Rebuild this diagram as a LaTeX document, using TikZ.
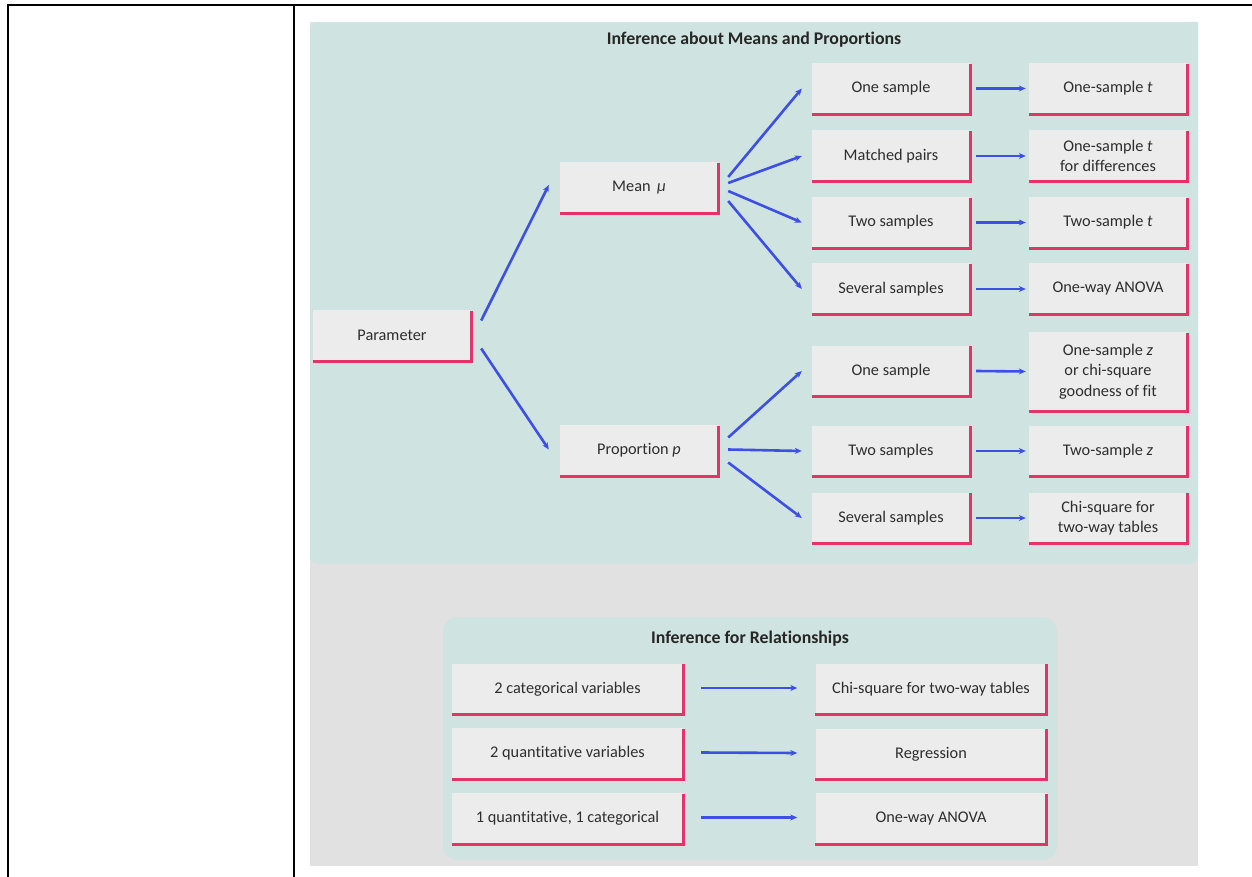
\documentclass[tikz,border=0pt]{standalone}
\usepackage{fontspec}
\setmainfont{Carlito}[Ligatures={NoCommon}]
\usetikzlibrary{arrows.meta,calc}
\definecolor{tealbg}{HTML}{CFE4E0}
\definecolor{graybg}{HTML}{E1E1E1}
\definecolor{boxfill}{HTML}{ECECEC}
\definecolor{edgered}{HTML}{E33468}
\definecolor{arrowblue}{HTML}{3D4FE6}
\definecolor{txt}{HTML}{2E2E2E}
\tikzset{
  x=1pt, y=-1pt,
  stepbox/.style={fill=boxfill, minimum width=158pt, minimum height=51pt,
    inner sep=0pt, align=center, text=txt, font=\fontsize{16.3}{20.5}\selectfont},
  widebox/.style={stepbox, minimum width=231pt},
  redline/.style={edgered, line width=3pt},
  flow/.style={arrowblue, line width=2.6pt, -{Stealth[length=7pt,width=6pt]}},
  heading/.style={font=\fontsize{17.8}{20}\selectfont\bfseries, text=black!85},
  rule/.style={black, line width=2pt}
}
\newcommand{\redL}[1]{\draw[redline] ([yshift=-1pt]#1.north east) -- (#1.south east) -- (#1.south west);}
\begin{document}
\begin{tikzpicture}
\useasboundingbox (0,0) rectangle (1252,877);
\fill[white] (0,0) rectangle (1252,877);

% table frame
\draw[rule] (7,5) -- (1252,5);
\draw[rule] (8,5) -- (8,877);
\draw[rule] (294,5) -- (294,877);

% backgrounds
\fill[graybg] (310,22) rectangle (1198,866);
\fill[tealbg] (310,22) -- (1198,22) -- (1198,555) [rounded corners=8pt] -- (1198,564) -- (310,564) -- cycle;
\fill[tealbg, rounded corners=14pt] (443,617) rectangle (1057,860);

% --- Inference about means and proportions ---
\node[heading] (title1) at (754,40) {Inference about Means and Proportions};

\node[stepbox] (param) at (392,335.5) {Parameter};
\node[stepbox] (mean)  at (639,188)   {Mean \,\textit{μ}};
\node[stepbox] (prop)  at (639,450.5) {Proportion \textit{p}};

\node[stepbox] (m1) at (891,88.5)  {One sample};
\node[stepbox] (m2) at (891,156)   {Matched pairs};
\node[stepbox] (m3) at (891,222.5) {Two samples};
\node[stepbox] (m4) at (891,289)   {Several samples};
\node[stepbox] (p1) at (891,371)   {One sample};
\node[stepbox] (p2) at (891,451)   {Two samples};
\node[stepbox] (p3) at (891,518)   {Several samples};

\node[stepbox] (r1) at (1108,88.5)  {One-sample \textit{t}};
\node[stepbox] (r2) at (1108,156)   {One-sample \textit{t}\\for differences};
\node[stepbox] (r3) at (1108,222.5) {Two-sample \textit{t}};
\node[stepbox] (r4) at (1108,289)   {One-way ANOVA};
\node[stepbox, minimum height=79pt] (s1) at (1108,371.5) {One-sample \textit{z}\\or chi-square\\goodness of fit};
\node[stepbox] (s2) at (1108,451)   {Two-sample \textit{z}};
\node[stepbox] (s3) at (1108,518)   {Chi-square for\\two-way tables};

\foreach \n in {param,mean,prop,m1,m2,m3,m4,p1,p2,p3,r1,r2,r3,r4,s1,s2,s3} {\redL{\n}}

% branching connectors
\draw[flow] ($(param.east)+(10,-15)$) -- ($(mean.west)+(-11,-3)$);
\draw[flow] ($(param.east)+(10,13)$)  -- ($(prop.west)+(-11,-1)$);

\draw[flow] ($(mean.east)+(10,-11)$) -- ($(m1.west)+(-10,0)$);
\draw[flow] ($(mean.east)+(10,-5)$)  -- ($(m2.west)+(-10,0)$);
\draw[flow] ($(mean.east)+(10,3)$)   -- ($(m3.west)+(-10,0)$);
\draw[flow] ($(mean.east)+(10,13)$)  -- ($(m4.west)+(-10,0)$);

\draw[flow] ($(prop.east)+(10,-13)$) -- ($(p1.west)+(-10,0)$);
\draw[flow] ($(prop.east)+(10,-1)$)  -- ($(p2.west)+(-10,0)$);
\draw[flow] ($(prop.east)+(10,12)$)  -- ($(p3.west)+(-10,0)$);

\foreach \a/\b in {m1/r1,m2/r2,m3/r3,m4/r4,p1/s1,p2/s2,p3/s3}
  {\draw[flow] ($(\a.east)+(6,0)$) -- ($(\b.west)+(-3,0)$);}

% --- Inference for relationships ---
\node[heading] (title2) at (750,639) {Inference for Relationships};

\node[widebox] (v1) at (567.5,689)   {2 categorical variables};
\node[widebox] (v2) at (567.5,753.5) {2 quantitative variables};
\node[widebox] (v3) at (567.5,818.5) {1 quantitative, 1 categorical};

\node[widebox] (t1) at (931,689)   {Chi-square for two-way tables};
\node[widebox] (t2) at (931,754)   {Regression};
\node[widebox] (t3) at (931,818.5) {One-way ANOVA};

\foreach \n in {v1,v2,v3,t1,t2,t3} {\redL{\n}}

\foreach \a/\b in {v1/t1,v2/t2,v3/t3}
  {\draw[flow] ($(\a.east)+(18,-1)$) -- ($(\b.west)+(-18,-1)$);}
\end{tikzpicture}
\end{document}
